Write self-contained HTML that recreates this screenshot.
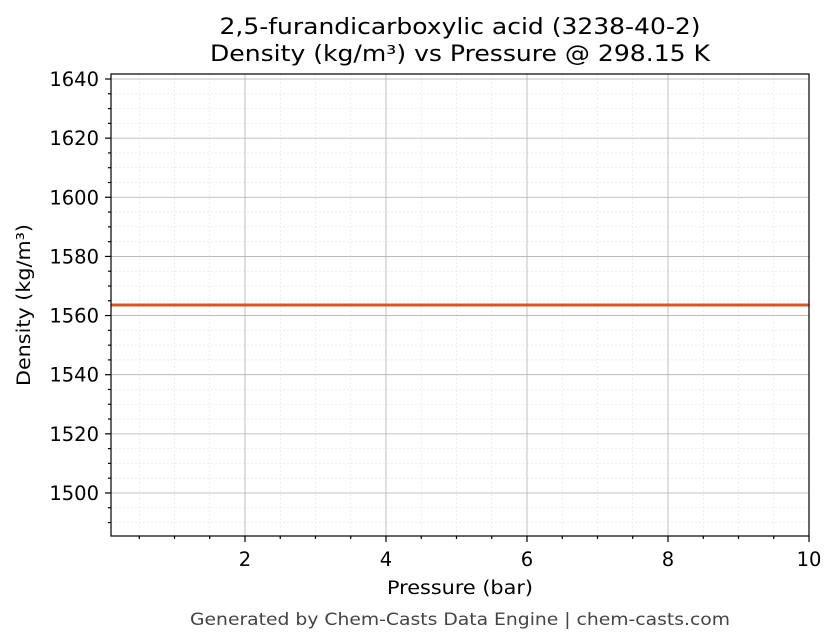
<!DOCTYPE html>
<html><head><meta charset="utf-8"><style>body{margin:0;background:#fff}svg{display:block}text{font-family:"DejaVu Sans","Liberation Sans",sans-serif}</style></head><body>
<svg width="836" height="644" xmlns="http://www.w3.org/2000/svg">
<rect width="836" height="644" fill="#fff"/>
<g id="minor" stroke="#e3e3e3" stroke-width="0.6" stroke-dasharray="2,2"></g>
<g id="major" stroke="#b0b0b0" stroke-width="0.8"></g>
<line x1="111" y1="305" x2="809" y2="305" stroke="#d9541e" stroke-width="3"/>
<rect x="111" y="74" width="698" height="462" fill="none" stroke="#000" stroke-width="1.2"/>
<g id="ticks" stroke="#000" stroke-width="1.2"></g>
<g id="labels" font-size="19.5" fill="#000"></g>
<text x="460" y="34" font-size="22" text-anchor="middle" textLength="481" lengthAdjust="spacingAndGlyphs">2,5-furandicarboxylic acid (3238-40-2)</text>
<text x="460" y="61" font-size="22" text-anchor="middle" textLength="500" lengthAdjust="spacingAndGlyphs">Density (kg/m³) vs Pressure @ 298.15 K</text>
<text x="460" y="594" font-size="18.5" text-anchor="middle" textLength="146" lengthAdjust="spacingAndGlyphs">Pressure (bar)</text>
<text x="30" y="305" font-size="18.5" text-anchor="middle" transform="rotate(-90 30 305)" textLength="162" lengthAdjust="spacingAndGlyphs">Density (kg/m³)</text>
<text x="460" y="625" font-size="16.5" fill="#444" text-anchor="middle" textLength="540" lengthAdjust="spacingAndGlyphs">Generated by Chem-Casts Data Engine | chem-casts.com</text>
</svg>
<script>
const ns="http://www.w3.org/2000/svg";
function el(p,t,a){const e=document.createElementNS(ns,t);for(const k in a)e.setAttribute(k,a[k]);document.getElementById(p).appendChild(e);return e;}
const X=v=>104+70.5*v, Y=v=>79+(1640-v)*2.957;
for(let v=0.5;v<10;v+=0.5){const x=X(v);if(x<112)continue;
 if(Math.abs(v%2)<1e-9){el('major','line',{x1:x,y1:74,x2:x,y2:536});el('ticks','line',{x1:x,y1:536,x2:x,y2:542});}
 else{el('minor','line',{x1:x,y1:74,x2:x,y2:536});el('ticks','line',{x1:x,y1:536,x2:x,y2:539});}}
for(const v of [2,4,6,8,10]){const t=el('labels','text',{x:X(v),y:566,'text-anchor':'middle'});t.textContent=v;}
el('ticks','line',{x1:809,y1:536,x2:809,y2:542});
for(let v=1490;v<=1640;v+=5){const y=Y(v);
 if(v%20==0){el('major','line',{x1:111,y1:y,x2:809,y2:y});el('ticks','line',{x1:105,y1:y,x2:111,y2:y});
  const t=el('labels','text',{x:99,y:y+7,'text-anchor':'end'});t.textContent=v;}
 else{el('minor','line',{x1:111,y1:y,x2:809,y2:y});el('ticks','line',{x1:108,y1:y,x2:111,y2:y});}}
</script>
</body></html>
